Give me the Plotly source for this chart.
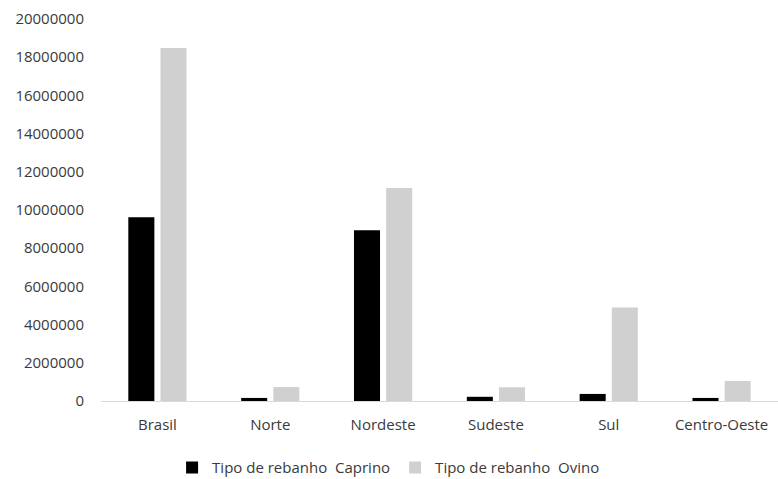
import plotly.graph_objects as go

categories = ["Brasil", "Norte", "Nordeste", "Sudeste", "Sul", "Centro-Oeste"]
caprino = [9620000, 160000, 8940000, 220000, 370000, 160000]
ovino = [18480000, 730000, 11150000, 720000, 4900000, 1050000]
series_names = ["Tipo de rebanho  Caprino", "Tipo de rebanho  Ovino"]
y_ticks = list(range(0, 20000001, 2000000))

font = "Open Sans, Liberation Sans, sans-serif"
txt = "#3a3a3a"

fig = go.Figure()
fig.add_trace(go.Bar(x=categories, y=caprino, name=series_names[0],
                     marker=dict(color="#000000", line=dict(width=0))))
fig.add_trace(go.Bar(x=categories, y=ovino, name=series_names[1],
                     marker=dict(color="#d0d0d0", line=dict(width=0))))

fig.update_layout(
    width=778, height=479,
    margin=dict(l=101, r=0, t=19, b=78, autoexpand=False),
    paper_bgcolor="white", plot_bgcolor="white",
    barmode="group", bargap=0.43, bargroupgap=0.19,
    font=dict(family=font, size=15, color=txt),
    showlegend=True,
    legend=dict(orientation="h", x=0.105, xanchor="left", y=-0.175, yanchor="middle",
                font=dict(size=15, color=txt), itemwidth=30,
                traceorder="normal"),
    xaxis=dict(showgrid=False, showline=True, linecolor="#d9d9d9", linewidth=1,
               automargin=False,
               ticks="", ticklabelstandoff=10, tickfont=dict(size=15, color=txt)),
    yaxis=dict(range=[0, 20000000], tickvals=y_ticks,
               ticktext=[str(v) for v in y_ticks], automargin=False,
               showgrid=False, zeroline=False, showline=False, ticks="",
               ticklabelstandoff=16, tickfont=dict(size=15, color=txt)),
)

fig.write_html("out.html")
